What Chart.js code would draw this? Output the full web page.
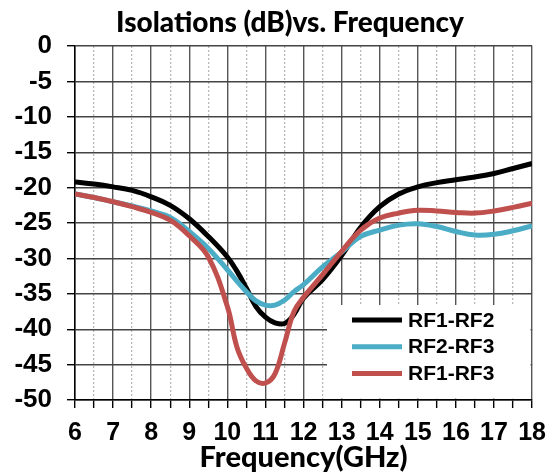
<!DOCTYPE html>
<html>
<head>
<meta charset="utf-8">
<script src="https://cdn.jsdelivr.net/npm/chart.js@4/dist/chart.umd.min.js"></script>
<style>
  html, body { margin: 0; padding: 0; background: #fff; }
  #wrap { width: 556px; height: 473px; }
</style>
</head>
<body>
<div id="wrap"><canvas id="c" width="556" height="473"></canvas></div>
<script>
  // frequency points (GHz)
  const freq = [6, 6.5, 7, 7.5, 8, 8.5, 9, 9.5, 10, 10.25, 10.5, 10.75, 11, 11.25, 11.5, 11.75, 12, 12.5, 13, 13.5, 14, 14.5, 15, 15.5, 16, 16.5, 17, 17.5, 18];

  // isolation in dB
  const rf1rf2 = [-19.2, -19.5, -19.9, -20.4, -21.3, -22.5, -24.4, -26.9, -29.8, -31.8, -34.2, -36.8, -38.3, -39.1, -39.2, -37.9, -35.6, -33.0, -29.6, -25.6, -22.7, -20.9, -19.9, -19.3, -18.9, -18.5, -18.0, -17.3, -16.6];
  const rf2rf3 = [-20.9, -21.4, -22.0, -22.6, -23.3, -24.2, -26.2, -28.6, -31.6, -33.2, -34.7, -36.0, -36.6, -36.6, -35.9, -34.7, -33.7, -31.2, -29.1, -26.9, -26.0, -25.3, -25.1, -25.5, -26.2, -26.7, -26.6, -26.1, -25.4];
  const rf1rf3 = [-20.9, -21.4, -22.0, -22.7, -23.5, -24.6, -26.8, -29.8, -36.8, -42.5, -45.5, -47.3, -47.6, -46.3, -42.0, -37.5, -35.5, -32.3, -29.0, -26.0, -24.3, -23.6, -23.2, -23.3, -23.5, -23.6, -23.3, -22.8, -22.2];

  const seriesNames = ["RF1-RF2", "RF2-RF3", "RF1-RF3"];
  const seriesColors = ["#000000", "#4bacc6", "#c0504d"];

  const xMin = 6, xMax = 18, xStep = 0.5;
  const yMin = -50, yMax = 0, yStep = 2.5;

  const AXIS_FONT = "'Liberation Sans', Arial, sans-serif";
  const TITLE_FONT = "Lato, 'Open Sans', sans-serif";

  function pts(ys) {
    return freq.map((f, i) => ({ x: f, y: ys[i] }));
  }

  const isMajorX = (v) => Math.abs(v - Math.round(v)) < 1e-6;
  const isMajorY = (v) => Math.abs(v / 5 - Math.round(v / 5)) < 1e-6;

  // title + in-plot legend
  const decor = {
    id: "decor",
    beforeDatasetsDraw(chart) {
      const { ctx, chartArea } = chart;
      ctx.save();
      ctx.fillStyle = "#fff";
      ctx.fillRect(327, 305, chartArea.right - 1.5 - 327, chartArea.bottom - 1.5 - 305);
      ctx.restore();
    },
    afterDatasetsDraw(chart) {
      const { ctx } = chart;
      ctx.save();
      ctx.font = "bold 21px " + AXIS_FONT;
      ctx.textBaseline = "middle";
      ctx.textAlign = "left";
      seriesNames.forEach((name, i) => {
        const y = 320 + i * 26.7;
        ctx.strokeStyle = seriesColors[i];
        ctx.lineWidth = 5;
        ctx.beginPath();
        ctx.moveTo(352, y);
        ctx.lineTo(402, y);
        ctx.stroke();
        ctx.fillStyle = "#000";
        ctx.fillText(name, 408, y + 1);
      });
      ctx.font = "900 28px " + TITLE_FONT;
      ctx.textAlign = "center";
      ctx.textBaseline = "alphabetic";
      ctx.fillText("Isolations (dB)vs. Frequency", 290, 32);
      ctx.restore();
    },
  };

  new Chart(document.getElementById("c"), {
    type: "scatter",
    data: {
      datasets: [rf1rf2, rf2rf3, rf1rf3].map((ys, i) => ({
        label: seriesNames[i],
        data: pts(ys),
        showLine: true,
        borderColor: seriesColors[i],
        backgroundColor: seriesColors[i],
        borderWidth: 5,
        pointRadius: 0,
        tension: 0.4,
        order: 3 - i,
      })),
    },
    options: {
      responsive: false,
      animation: false,
      layout: { padding: { top: 46, right: 19, left: 0, bottom: 0 } },
      plugins: {
        legend: { display: false },
        title: { display: false },
        tooltip: { enabled: false },
      },
      scales: {
        x: {
          type: "linear",
          min: xMin,
          max: xMax,
          afterFit(scale) { scale.height = 73; },
          ticks: {
            stepSize: xStep,
            autoSkip: false,
            maxRotation: 0,
            padding: 10,
            color: "#000",
            font: { family: AXIS_FONT, size: 25, weight: "bold" },
            callback: (v) => (isMajorX(v) ? String(Math.round(v)) : ""),
          },
          grid: {
            color: (c) => (c.tick && isMajorX(c.tick.value) ? "#555" : "#b8b8b8"),
            lineWidth: (c) => (c.tick && isMajorX(c.tick.value) ? 1.4 : 1.3),
            tickLength: 8,
            tickColor: "#000",
            tickWidth: 1.4,
          },
          border: {
            color: "#000",
            width: 1.5,
            dash: (c) => (c.tick && !isMajorX(c.tick.value) ? [2, 2] : []),
          },
          title: {
            display: true,
            text: "Frequency(GHz)",
            color: "#000",
            padding: { top: 0, bottom: -2 },
            font: { family: TITLE_FONT, size: 29, weight: "900" },
          },
        },
        y: {
          min: yMin,
          max: yMax,
          afterFit(scale) { scale.width = 75; },
          ticks: {
            stepSize: yStep,
            padding: 15,
            color: "#000",
            font: { family: AXIS_FONT, size: 26, weight: "bold" },
            callback: (v) => (isMajorY(v) ? String(v) : ""),
          },
          grid: {
            color: (c) => (c.tick && isMajorY(c.tick.value) ? "#444" : "#c4c4c4"),
            lineWidth: (c) => (c.tick && isMajorY(c.tick.value) ? 1.4 : 1.6),
            tickLength: 8,
            tickColor: (c) => (c.tick && isMajorY(c.tick.value) ? "#000" : "rgba(0,0,0,0)"),
          },
          border: { color: "#000", width: 1.5 },
        },
      },
    },
    plugins: [decor],
  });
</script>
</body>
</html>
